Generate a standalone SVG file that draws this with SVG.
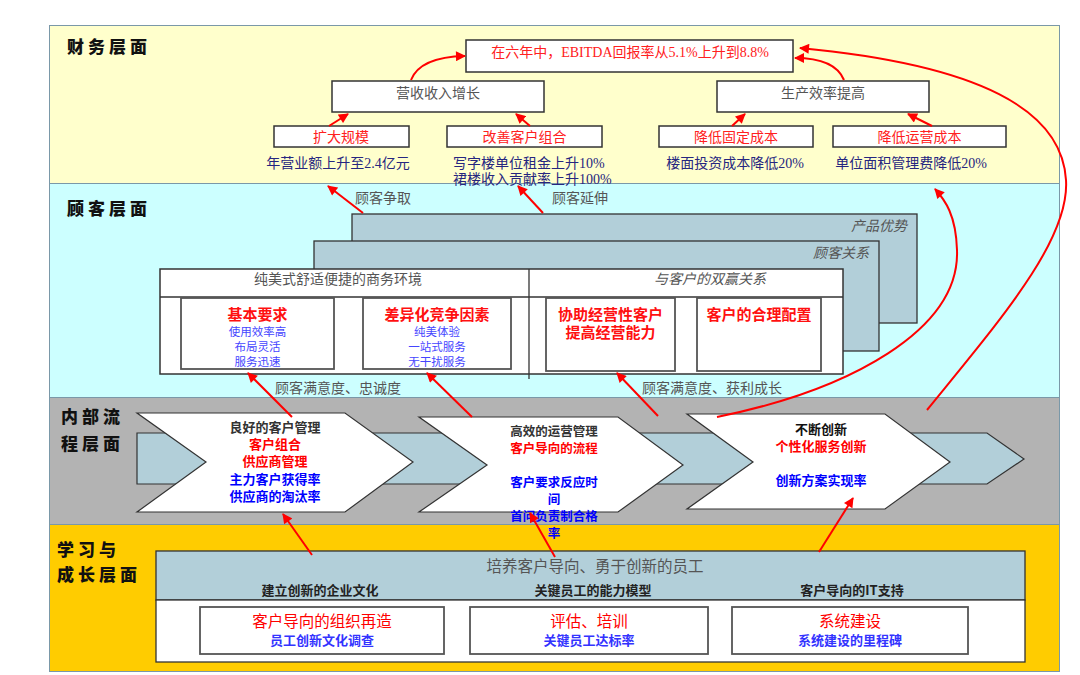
<svg xmlns="http://www.w3.org/2000/svg" width="1080" height="675" viewBox="0 0 1080 675">
<defs>
<style>
text{font-family:"Liberation Serif","Noto Sans CJK SC",serif;}
.ttl{font-family:"Noto Sans CJK SC",sans-serif;font-weight:900;font-size:17px;letter-spacing:4px;fill:#111;}
.box{fill:#fff;stroke:#333;stroke-width:1.5;}
.ibox{fill:#fff;stroke:#555;stroke-width:1.8;}
.sb{fill:#b2cfd9;stroke:#333;stroke-width:1.3;}
.ch{fill:#fff;stroke:#333;stroke-width:1.2;}
.red{fill:#ff2020;font-size:14px;}
.gry{fill:#555;font-size:14px;}
.nav{fill:#262680;font-size:14px;}
.rb{fill:#ff1010;font-size:15px;font-weight:bold;}
.bl{fill:#4545ff;font-size:11.5px;}
.it{fill:#555;font-size:14px;font-style:italic;}
.cs{font-family:"Noto Sans CJK SC",sans-serif;font-weight:bold;font-size:13px;}
.cs2{font-family:"Noto Sans CJK SC",sans-serif;font-weight:bold;font-size:12.5px;}
.c{text-anchor:middle;}
.ar{fill:none;stroke:#f00;stroke-width:2;marker-end:url(#ah);}
</style>
<marker id="ah" viewBox="0 0 10 10" refX="9" refY="5" markerWidth="11" markerHeight="10" markerUnits="userSpaceOnUse" orient="auto"><path d="M0,0 L10,5 L0,10 z" fill="#f00"/></marker>
</defs>

<g id="bands">
<rect x="49.5" y="25.5" width="1010" height="158" fill="#ffffcc" stroke="#7a98a8"/>
<rect x="49.5" y="183.5" width="1010" height="214" fill="#ccffff" stroke="#7a98a8"/>
<rect x="49.5" y="397.5" width="1010" height="127" fill="#b3b3b3" stroke="#7a98a8"/>
<rect x="49.5" y="524.5" width="1010" height="147" fill="#ffcc00" stroke="#7a98a8"/>
<text class="ttl" x="67" y="53">财务层面</text>
<text class="ttl" x="67" y="215">顾客层面</text>
<text class="ttl" x="61" y="423">内部流</text>
<text class="ttl" x="61" y="450">程层面</text>
<text class="ttl" x="57" y="556">学习与</text>
<text class="ttl" x="57" y="581">成长层面</text>
</g>

<g id="fin-goal"><rect class="box" x="466" y="40" width="327" height="32"/><text class="red c" x="630" y="57">在六年中，EBITDA回报率从5.1%上升到8.8%</text></g>
<g id="fin-rev"><rect class="box" x="332" y="81" width="212" height="31"/><text class="gry c" x="438" y="98">营收收入增长</text></g>
<g id="fin-eff"><rect class="box" x="717" y="81" width="212" height="31"/><text class="gry c" x="823" y="98">生产效率提高</text></g>
<g id="fin-scale"><rect class="box" x="274" y="126" width="135" height="21"/><text class="red c" x="341" y="142">扩大规模</text><text class="nav c" x="338" y="168">年营业额上升至2.4亿元</text></g>
<g id="fin-mix"><rect class="box" x="447" y="126" width="155" height="21"/><text class="red c" x="524.5" y="142">改善客户组合</text><text class="nav" x="453" y="168">写字楼单位租金上升10%</text><text class="nav" x="453" y="184">裙楼收入贡献率上升100%</text></g>
<g id="fin-fixed"><rect class="box" x="659" y="126" width="154" height="21"/><text class="red c" x="736" y="142">降低固定成本</text><text class="nav c" x="735" y="168">楼面投资成本降低20%</text></g>
<g id="fin-op"><rect class="box" x="833" y="126" width="173" height="21"/><text class="red c" x="919.5" y="142">降低运营成本</text><text class="nav c" x="911" y="168">单位面积管理费降低20%</text></g>

<g id="cust">
<text class="gry" x="355" y="203">顾客争取</text>
<text class="gry" x="552" y="203">顾客延伸</text>
<g id="cust-product"><rect class="sb" x="352" y="214" width="565" height="109"/><text class="it" x="907" y="231" text-anchor="end">产品优势</text></g>
<g id="cust-relation"><rect class="sb" x="314" y="241" width="565" height="110"/><text class="it" x="869" y="258" text-anchor="end">顾客关系</text></g>
<g id="cust-main">
<rect class="box" x="160" y="269" width="683" height="105"/>
<line x1="160" y1="297" x2="843" y2="297" stroke="#333" stroke-width="1.3"/>
<line x1="529" y1="269" x2="529" y2="379" stroke="#333" stroke-width="1.3"/>
<text class="gry c" x="338" y="284">纯美式舒适便捷的商务环境</text>
<text class="it c" x="710" y="284">与客户的双赢关系</text>
</g>
<g id="cust-basic"><rect class="ibox" x="181" y="298" width="153" height="71"/><text class="rb c" x="257.5" y="320">基本要求</text><text class="bl c" x="257.5" y="336">使用效率高</text><text class="bl c" x="257.5" y="351">布局灵活</text><text class="bl c" x="257.5" y="366">服务迅速</text></g>
<g id="cust-diff"><rect class="ibox" x="363" y="298" width="148" height="71"/><text class="rb c" x="437" y="320">差异化竞争因素</text><text class="bl c" x="437" y="336">纯美体验</text><text class="bl c" x="437" y="351">一站式服务</text><text class="bl c" x="437" y="366">无干扰服务</text></g>
<g id="cust-assist"><rect class="ibox" x="546" y="298" width="129" height="73"/><text class="rb c" x="610.5" y="320">协助经营性客户</text><text class="rb c" x="610.5" y="338">提高经营能力</text></g>
<g id="cust-config"><rect class="ibox" x="697" y="298" width="124" height="73"/><text class="rb c" x="759" y="320">客户的合理配置</text></g>
<text class="gry" x="275" y="393">顾客满意度、忠诚度</text>
<text class="gry" x="642" y="393">顾客满意度、获利成长</text>
</g>

<g id="process">
<path d="M137 433 L987 433 L1024 459 L987 484 L137 484 Z" fill="#b2cfd9" stroke="#333" stroke-width="1.2"/>
<g id="proc-customer"><path class="ch" d="M137 413 L345 413 L413 462 L345 512 L137 512 L206 462 Z"/>
<text class="cs c" x="275" y="432" fill="#333">良好的客户管理</text><text class="cs c" x="275" y="449" fill="#f00">客户组合</text><text class="cs c" x="275" y="466" fill="#f00">供应商管理</text><text class="cs c" x="275" y="484" fill="#00f">主力客户获得率</text><text class="cs c" x="275" y="501" fill="#00f">供应商的淘汰率</text></g>
<g id="proc-ops"><path class="ch" d="M419 417 L618 417 L683 465 L618 512 L419 512 L487 465 Z"/>
<text class="cs2 c" x="554" y="436" fill="#333">高效的运营管理</text><text class="cs2 c" x="554" y="453" fill="#f00">客户导向的流程</text><text class="cs2 c" x="554" y="487" fill="#00f">客户要求反应时</text><text class="cs2 c" x="554" y="504" fill="#00f">间</text><text class="cs2 c" x="554" y="521" fill="#00f">首问负责制合格</text><text class="cs2 c" x="554" y="538" fill="#00f">率</text></g>
<g id="proc-innov"><path class="ch" d="M687 414 L885 414 L950 462 L885 509 L687 509 L753 462 Z"/>
<text class="cs c" x="821" y="434" fill="#111">不断创新</text><text class="cs c" x="821" y="451" fill="#f00">个性化服务创新</text><text class="cs c" x="821" y="485" fill="#00f">创新方案实现率</text></g>
</g>

<g id="learn">
<rect x="156" y="551" width="869" height="49" fill="#b2cfd9" stroke="#333" stroke-width="1.3"/>
<rect x="156" y="600" width="869" height="62" fill="#fff" stroke="#333" stroke-width="1.3"/>
<text class="c" x="595" y="572" fill="#555" font-size="15.5">培养客户导向、勇于创新的员工</text>
<text class="cs c" x="320" y="595" fill="#222">建立创新的企业文化</text>
<text class="cs c" x="593" y="595" fill="#222">关键员工的能力模型</text>
<text class="cs c" x="852" y="595" fill="#222">客户导向的IT支持</text>
<g id="learn-org"><rect class="ibox" x="200" y="607" width="244" height="47"/><text class="c" x="322" y="627" fill="#f00" font-size="15.5">客户导向的组织再造</text><text class="cs c" x="322" y="645" fill="#33f" font-size="12">员工创新文化调查</text></g>
<g id="learn-eval"><rect class="ibox" x="470" y="607" width="238" height="47"/><text class="c" x="589" y="627" fill="#f00" font-size="15.5">评估、培训</text><text class="cs c" x="589" y="645" fill="#33f" font-size="12">关键员工达标率</text></g>
<g id="learn-sys"><rect class="ibox" x="732" y="607" width="236" height="47"/><text class="c" x="850" y="627" fill="#f00" font-size="15.5">系统建设</text><text class="cs c" x="850" y="645" fill="#33f" font-size="12">系统建设的里程碑</text></g>
</g>

<g id="connectors">
<path class="ar" d="M411 80 Q420 57 465 56"/>
<path class="ar" d="M329 126 L348 114"/>
<path class="ar" d="M530 126 L516 114"/>
<path class="ar" d="M844 80 Q835 58 795 58"/>
<path class="ar" d="M732 126 L745 114"/>
<path class="ar" d="M932 126 L908 114"/>
<path class="ar" d="M927 410 C1000 320 1070 240 1066 180 C1062 110 980 65 800 48"/>
<path class="ar" d="M363 213 L328 186"/>
<path class="ar" d="M543 213 L518 186"/>
<path class="ar" d="M717 417 C850 390 960 330 957 250 C956 215 945 200 935 189"/>
<path class="ar" d="M292 417 L248 373"/>
<path class="ar" d="M472 417 L427 373"/>
<path class="ar" d="M658 416 L617 373"/>
<path class="ar" d="M312 555 L283 514"/>
<path class="ar" d="M555 557 L530 513"/>
<path class="ar" d="M819 552 L853 498"/>
</g>
</svg>
